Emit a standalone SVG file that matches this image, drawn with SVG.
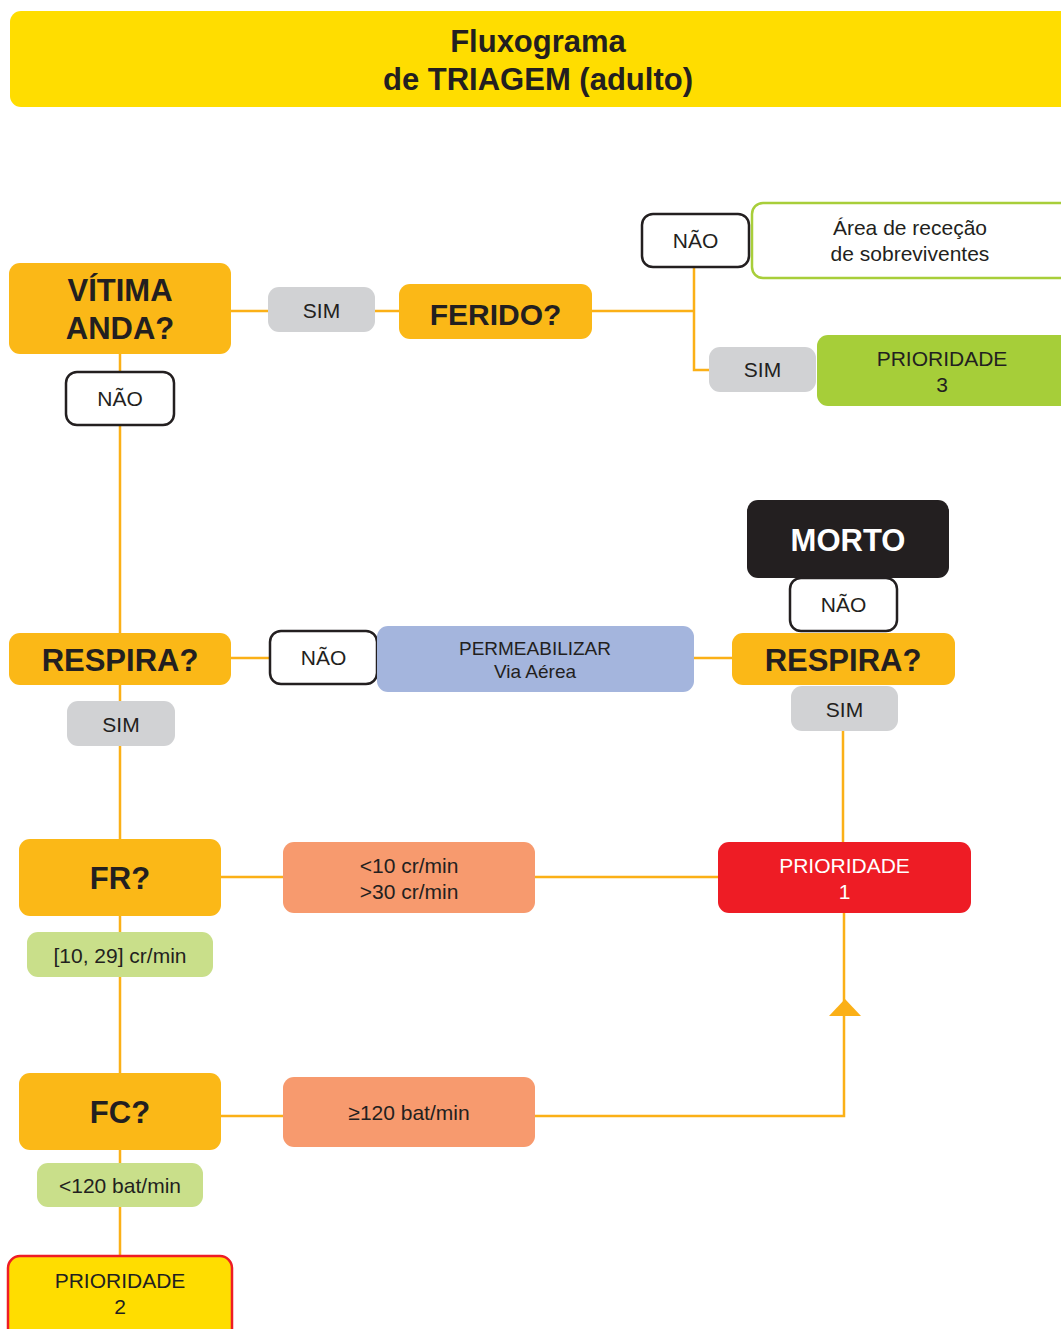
<svg xmlns="http://www.w3.org/2000/svg" width="1061" height="1329" viewBox="0 0 1061 1329">
<style>
text{font-family:"Liberation Sans",Arial,sans-serif;fill:#231F20;text-anchor:middle}
.b{font-weight:bold;font-size:31px}
.r{font-size:21px}
.s{font-size:19px}
.w{fill:#fff}
.q{fill:#FBB817}
.g{fill:#D1D2D4}
.n{fill:#fff;stroke:#231F20;stroke-width:2.5}
.o{fill:#F79A6E}
.lg{fill:#C9DF8A}
.c{fill:none;stroke:#FBB017;stroke-width:2.5}
</style>
<rect width="1061" height="1329" fill="#fff"/>
<g id="title">
<rect x="10" y="11" width="1070" height="96" rx="11" fill="#FFDD00"/>
<text class="b" x="538" y="52">Fluxograma</text>
<text class="b" x="538" y="90">de TRIAGEM (adulto)</text>
</g>
<g id="connectors">
<path class="c" d="M231 311H268M375 311H399M592 311H694M694 267V370H709"/>
<path class="c" d="M120 354V633M231 658H269M694 658H732M843 731V842"/>
<path class="c" d="M120 685V839M221 877H283M535 877H718M120 916V1073"/>
<path class="c" d="M221 1116H283M535 1116H844V913M120 1150V1255"/>
<polygon points="829,1016 861,1016 845,999" fill="#FBB017"/>
</g>
<g id="vitima-anda"><rect class="q" x="9" y="263" width="222" height="91" rx="11"/><text class="b" x="120" y="301">VÍTIMA</text><text class="b" x="120" y="339">ANDA?</text></g>
<g id="sim1"><rect class="g" x="268" y="287" width="107" height="45" rx="11"/><text class="r" x="321.5" y="318">SIM</text></g>
<g id="ferido"><rect class="q" x="399" y="284" width="193" height="55" rx="11"/><text class="b" x="495.5" y="325" style="font-size:30px">FERIDO?</text></g>
<g id="nao1"><rect class="n" x="642" y="214" width="107" height="53" rx="11"/><text class="r" x="695.5" y="248">NÃO</text></g>
<g id="area"><rect x="752" y="203" width="330" height="75" rx="11" fill="#fff" stroke="#A8CE3A" stroke-width="2.5"/><text class="r" x="910" y="235">Área de receção</text><text class="r" x="910" y="261">de sobreviventes</text></g>
<g id="sim2"><rect class="g" x="709" y="347" width="107" height="45" rx="11"/><text class="r" x="762.5" y="377">SIM</text></g>
<g id="prioridade3"><rect x="817" y="335" width="260" height="71" rx="11" fill="#A6CE39"/><text class="r" x="942" y="366">PRIORIDADE</text><text class="r" x="942" y="392">3</text></g>
<g id="nao2"><rect class="n" x="66" y="372" width="108" height="53" rx="11"/><text class="r" x="120" y="406">NÃO</text></g>
<g id="morto"><rect x="747" y="500" width="202" height="78" rx="11" fill="#231F20"/><text class="b w" x="848" y="551">MORTO</text></g>
<g id="nao4"><rect class="n" x="790" y="578" width="107" height="53" rx="11"/><text class="r" x="843.5" y="612">NÃO</text></g>
<g id="respira1"><rect class="q" x="9" y="633" width="222" height="52" rx="11"/><text class="b" x="120" y="671">RESPIRA?</text></g>
<g id="nao3"><rect class="n" x="270" y="631" width="107" height="53" rx="11"/><text class="r" x="323.5" y="665">NÃO</text></g>
<g id="permeabilizar"><rect x="377" y="626" width="317" height="66" rx="11" fill="#A4B5DD"/><text class="s" x="535" y="655">PERMEABILIZAR</text><text class="s" x="535" y="678">Via Aérea</text></g>
<g id="respira2"><rect class="q" x="732" y="633" width="223" height="52" rx="11"/><text class="b" x="843" y="671">RESPIRA?</text></g>
<g id="sim4"><rect class="g" x="791" y="686" width="107" height="45" rx="11"/><text class="r" x="844.5" y="717">SIM</text></g>
<g id="sim3"><rect class="g" x="67" y="701" width="108" height="45" rx="11"/><text class="r" x="121" y="732">SIM</text></g>
<g id="fr"><rect class="q" x="19" y="839" width="202" height="77" rx="11"/><text class="b" x="120" y="889">FR?</text></g>
<g id="fr-fora"><rect class="o" x="283" y="842" width="252" height="71" rx="11"/><text class="r" x="409" y="873">&lt;10 cr/min</text><text class="r" x="409" y="899">&gt;30 cr/min</text></g>
<g id="prioridade1"><rect x="718" y="842" width="253" height="71" rx="11" fill="#EE1C25"/><text class="r w" x="844.5" y="873">PRIORIDADE</text><text class="r w" x="844.5" y="899">1</text></g>
<g id="fr-normal"><rect class="lg" x="27" y="932" width="186" height="45" rx="11"/><text class="r" x="120" y="963">[10, 29] cr/min</text></g>
<g id="fc"><rect class="q" x="19" y="1073" width="202" height="77" rx="11"/><text class="b" x="120" y="1123">FC?</text></g>
<g id="fc-alta"><rect class="o" x="283" y="1077" width="252" height="70" rx="11"/><text class="r" x="409" y="1120">≥120 bat/min</text></g>
<g id="fc-normal"><rect class="lg" x="37" y="1163" width="166" height="44" rx="11"/><text class="r" x="120" y="1193">&lt;120 bat/min</text></g>
<g id="prioridade2"><rect x="8" y="1256" width="224" height="85" rx="12" fill="#FFDD00" stroke="#EE1C25" stroke-width="2.5"/><text class="r" x="120" y="1288">PRIORIDADE</text><text class="r" x="120" y="1314">2</text></g>
</svg>
